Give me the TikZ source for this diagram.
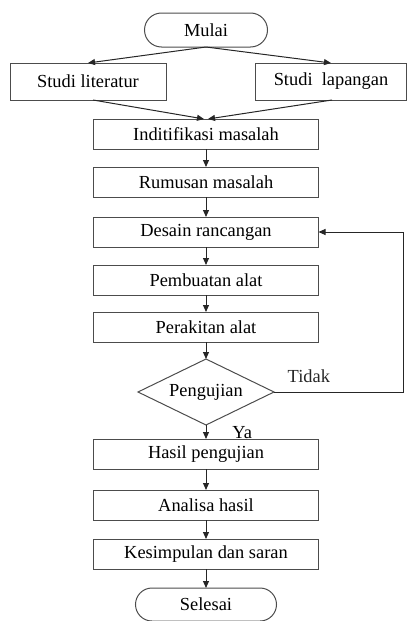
\documentclass[tikz,border=0pt]{standalone}
\usepackage{fontspec}
\setmainfont{Liberation Serif}
\usetikzlibrary{arrows.meta,positioning,shapes.geometric}

\tikzset{
  proses/.style={draw=black!70, line width=0.5pt, minimum width=112.5pt,
    minimum height=15pt, inner sep=0pt, outer sep=0pt},
  sisi/.style={proses, minimum height=18.5pt},
  terminal/.style={draw=black!70, line width=0.5pt, rounded corners=8.5pt,
    minimum height=17pt, inner sep=0pt, outer sep=0pt},
  keputusan/.style={draw=black!70, line width=0.5pt, diamond, aspect=2.06,
    minimum width=68pt, minimum height=33pt, inner sep=0pt, outer sep=0pt},
  panah/.style={-{Triangle[length=3.5pt,width=3pt]}, line width=0.5pt, black!85},
}

\begin{document}
\begin{tikzpicture}[font=\fontsize{9.2}{11}\selectfont, node distance=9pt]
    \useasboundingbox (0,0) rectangle (204pt,-310.5pt);
    % awal
    \node (mulai) [terminal, minimum width=61.5pt] at (103pt,-15pt) {Mulai};
    \node (literatur) [sisi, minimum width=78pt] at (44pt,-40.75pt) {Studi literatur};
    \node (lapangan) [sisi, minimum width=75.5pt] at (165.5pt,-40.75pt) {Studi\ \ lapangan};
    % alur utama
    \node (indit) [proses, below=36pt of mulai] {Inditifikasi masalah};
    \node (rumusan) [proses, below=9pt of indit] {Rumusan masalah};
    \node (desain) [proses, below=10pt of rumusan] {Desain rancangan};
    \node (pembuatan) [proses, below=9pt of desain] {Pembuatan alat};
    \node (perakitan) [proses, below=8.5pt of pembuatan] {Perakitan alat};
    \node (uji) [keputusan, below=8.5pt of perakitan] {Pengujian};
    \node (hasil) [proses, below=7pt of uji] {Hasil pengujian};
    \node (analisa) [proses, below=10.5pt of hasil] {Analisa hasil};
    \node (kesimpulan) [proses, below=9.5pt of analisa] {Kesimpulan dan saran};
    \node (selesai) [terminal, minimum width=70.5pt, minimum height=16.5pt,
      rounded corners=8.25pt, below=9.5pt of kesimpulan] {Selesai};
    \node (ya) [anchor=north west, inner sep=0pt] at ([xshift=13pt,yshift=-0.5pt]uji.south) {Ya};
    \coordinate (kanan) at (201.5pt,0);

    % panah
    \draw[panah] (mulai.south) -- (literatur.north);
    \draw[panah] (mulai.south) -- (lapangan.north);
    \draw[panah] ([xshift=2.5pt]literatur.south) -- ([xshift=-1pt]indit.north);
    \draw[panah] ([xshift=0.5pt]lapangan.south) -- ([xshift=1pt]indit.north);
    \draw[panah] (indit) -- (rumusan);
    \draw[panah] (rumusan) -- (desain);
    \draw[panah] (desain) -- (pembuatan);
    \draw[panah] (pembuatan) -- (perakitan);
    \draw[panah] (perakitan) -- (uji);
    \draw[panah] (uji) -- (hasil);
    \draw[panah] (hasil) -- (analisa);
    \draw[panah] (analisa) -- (kesimpulan);
    \draw[panah] (kesimpulan) -- (selesai);
    \draw[panah] (uji.east) -- node[pos=0.27, above=1pt] (tidak) {Tidak}
      (uji.east -| kanan) |- (desain.east);
\end{tikzpicture}
\end{document}
